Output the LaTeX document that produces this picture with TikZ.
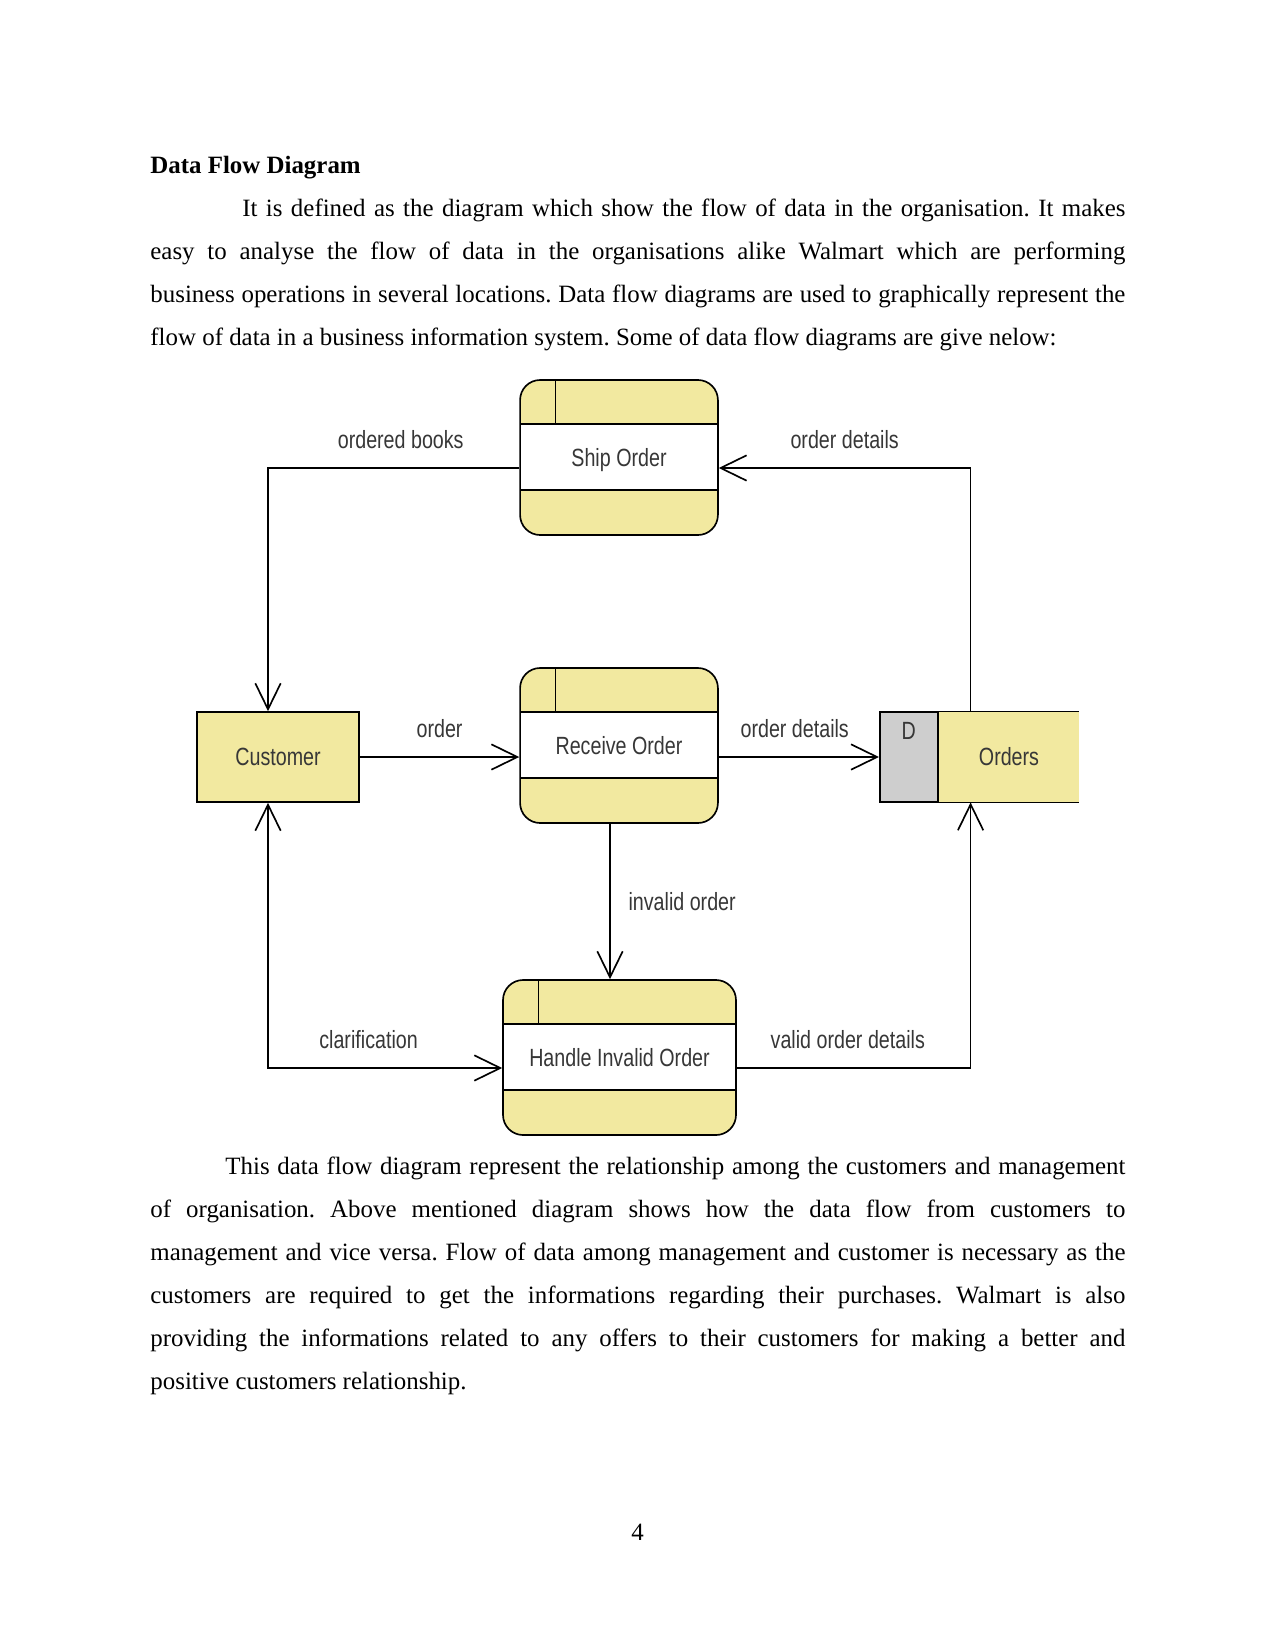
\documentclass[tikz,border=0pt]{standalone}
\usepackage{fontspec}
\setmainfont{Liberation Serif}
\newfontfamily\dfdfont{Liberation Sans}
\usepackage{graphicx}
\usetikzlibrary{arrows.meta,positioning,calc}

\definecolor{dfdyellow}{RGB}{242,233,160}
\definecolor{dfdgrey}{RGB}{206,206,206}
\definecolor{dfdink}{RGB}{55,55,55}

\newcommand{\narrowtxt}[1]{\scalebox{0.79}[1]{#1}}
\frenchspacing

\begin{document}
\begin{tikzpicture}[
        x=0.169333mm, y=-0.169333mm,
        every node/.style={inner sep=0pt},
        body/.style={text width=6.5in, align=justify, font=\fontsize{12}{20.73}\selectfont},
        lbl/.style={font=\dfdfont\fontsize{12}{14}\selectfont, text=dfdink, text height=8.6pt, text depth=0pt},
        proc/.style={draw, line width=0.8pt, fill=dfdyellow, rounded corners=3.4mm,
          minimum width=33.5mm, minimum height=26.25mm, lbl,
          path picture={
            \fill[white, sharp corners] ([yshift=-7.45mm]path picture bounding box.north west)
              rectangle ([yshift=7.62mm]path picture bounding box.south east);
            \draw[line width=0.8pt] ([yshift=-7.45mm]path picture bounding box.north west)
              -- ([yshift=-7.45mm]path picture bounding box.north east);
            \draw[line width=0.8pt] ([yshift=7.62mm]path picture bounding box.south west)
              -- ([yshift=7.62mm]path picture bounding box.south east);
            \draw[line width=0.8pt] ([xshift=6mm]path picture bounding box.north west)
              -- ([xshift=6mm,yshift=-7.45mm]path picture bounding box.north west);
          }},
        ent/.style={draw, line width=0.8pt, fill=dfdyellow, minimum width=27.43mm, minimum height=15.24mm, lbl},
        store/.style={fill=dfdyellow, minimum width=23.7mm, minimum height=15.24mm, lbl},
        dbox/.style={draw, line width=0.8pt, fill=dfdgrey, minimum width=9.82mm, minimum height=15.24mm},
        flow/.style={draw, line width=0.8pt, -{Straight Barb[length=4.4mm, width=4.3mm]}},
        flow2/.style={draw, line width=0.8pt, {Straight Barb[length=4.4mm, width=4.3mm]}-{Straight Barb[length=4.4mm, width=4.3mm]}}
      ]
      \fill[white] (0,0) rectangle (1275,1650);
      \useasboundingbox (0,0) rectangle (1275,1650);

      % text above the diagram
      \node[anchor=base west, font=\bfseries\fontsize{12}{14}\selectfont] (title) at (150,173) {Data Flow Diagram};
      \node[body, anchor=base west] (intro) at (150,216) {\hspace*{0.613in}It is defined as the diagram which show the flow of data in the organisation. It makes\linebreak
        easy to analyse the flow of data in the organisations alike Walmart which are performing\linebreak
        business operations in several locations. Data flow diagrams are used to graphically represent the\linebreak
        flow of data in a business information system. Some of data flow diagrams are give nelow:};

      % processes, entity and store
      \node[proc] (ship) at (619,457.5) {\narrowtxt{Ship Order}};
      \node[proc] (recv) at (619,745.5) {\narrowtxt{Receive Order}};
      \node[proc, minimum width=39.45mm] (hand) at (619.5,1057.5) {\narrowtxt{Handle Invalid Order}};
      \node[ent] (cust) at (278,757) {\narrowtxt{Customer}};
      \node[store] (ords) at (1009,757) {\narrowtxt{Orders}};
      \node[dbox, anchor=east, label={[lbl, anchor=north, yshift=-1.7mm]north:\narrowtxt{D}}] (ordid) at (ords.west) {};
      \draw[line width=0.8pt] (ords.north west) -- (ords.north east);
      \draw[line width=0.8pt] (ords.south west) -- (ords.south east);

      % flows
      \draw[flow] ($(ship.west)+(0,10.5)$) -| node[lbl, pos=0.25, yshift=4.8mm, xshift=1.2mm] (lbooks) {\narrowtxt{ordered books}} ($(cust.north)+(-10,0)$);
      \draw[flow] ($(ords.north west)+(32,0)$) |- node[lbl, pos=0.75, yshift=4.8mm] (ldetup) {\narrowtxt{order details}} ($(ship.east)+(0,10.5)$);
      \draw[flow] (cust.east) -- node[lbl, yshift=4.8mm] (lorder) {\narrowtxt{order}} (cust.east -| recv.west);
      \draw[flow] (recv.east |- ordid.west) -- node[lbl, yshift=4.8mm, xshift=-0.7mm] (ldetmid) {\narrowtxt{order details}} (ordid.west);
      \draw[flow] ($(recv.south)+(-9,0)$) -- node[lbl, anchor=west, xshift=3mm] (linvalid) {\narrowtxt{invalid order}} ($(hand.north)+(-9.5,0)$);
      \draw[flow2] ($(cust.south)+(-10,0)$) |- node[lbl, pos=0.75, yshift=4.8mm, xshift=-2.8mm] (lclar) {\narrowtxt{clarification}} ($(hand.west)+(0,10.5)$);
      \draw[flow] ($(hand.east)+(0,10.5)$) -| node[lbl, pos=0.25, yshift=4.8mm, xshift=-1mm] (lvalid) {\narrowtxt{valid order details}} ($(ords.south west)+(32,0)$);

      % text below the diagram
      \node[body, anchor=base west] (outro) at (150,1174.5) {\hspace*{0.5in}This data flow diagram represent the relationship among the customers and management\linebreak
        of organisation. Above mentioned diagram shows how the data flow from customers to\linebreak
        management and vice versa. Flow of data among management and customer is necessary as the\linebreak
        customers are required to get the informations regarding their purchases. Walmart is also\linebreak
        providing the informations related to any offers to their customers for making a better and\linebreak
        positive customers relationship.};
      \node[anchor=base, font=\fontsize{12}{14}\selectfont] (pageno) at (637.5,1540) {4};
    \end{tikzpicture}
\end{document}
